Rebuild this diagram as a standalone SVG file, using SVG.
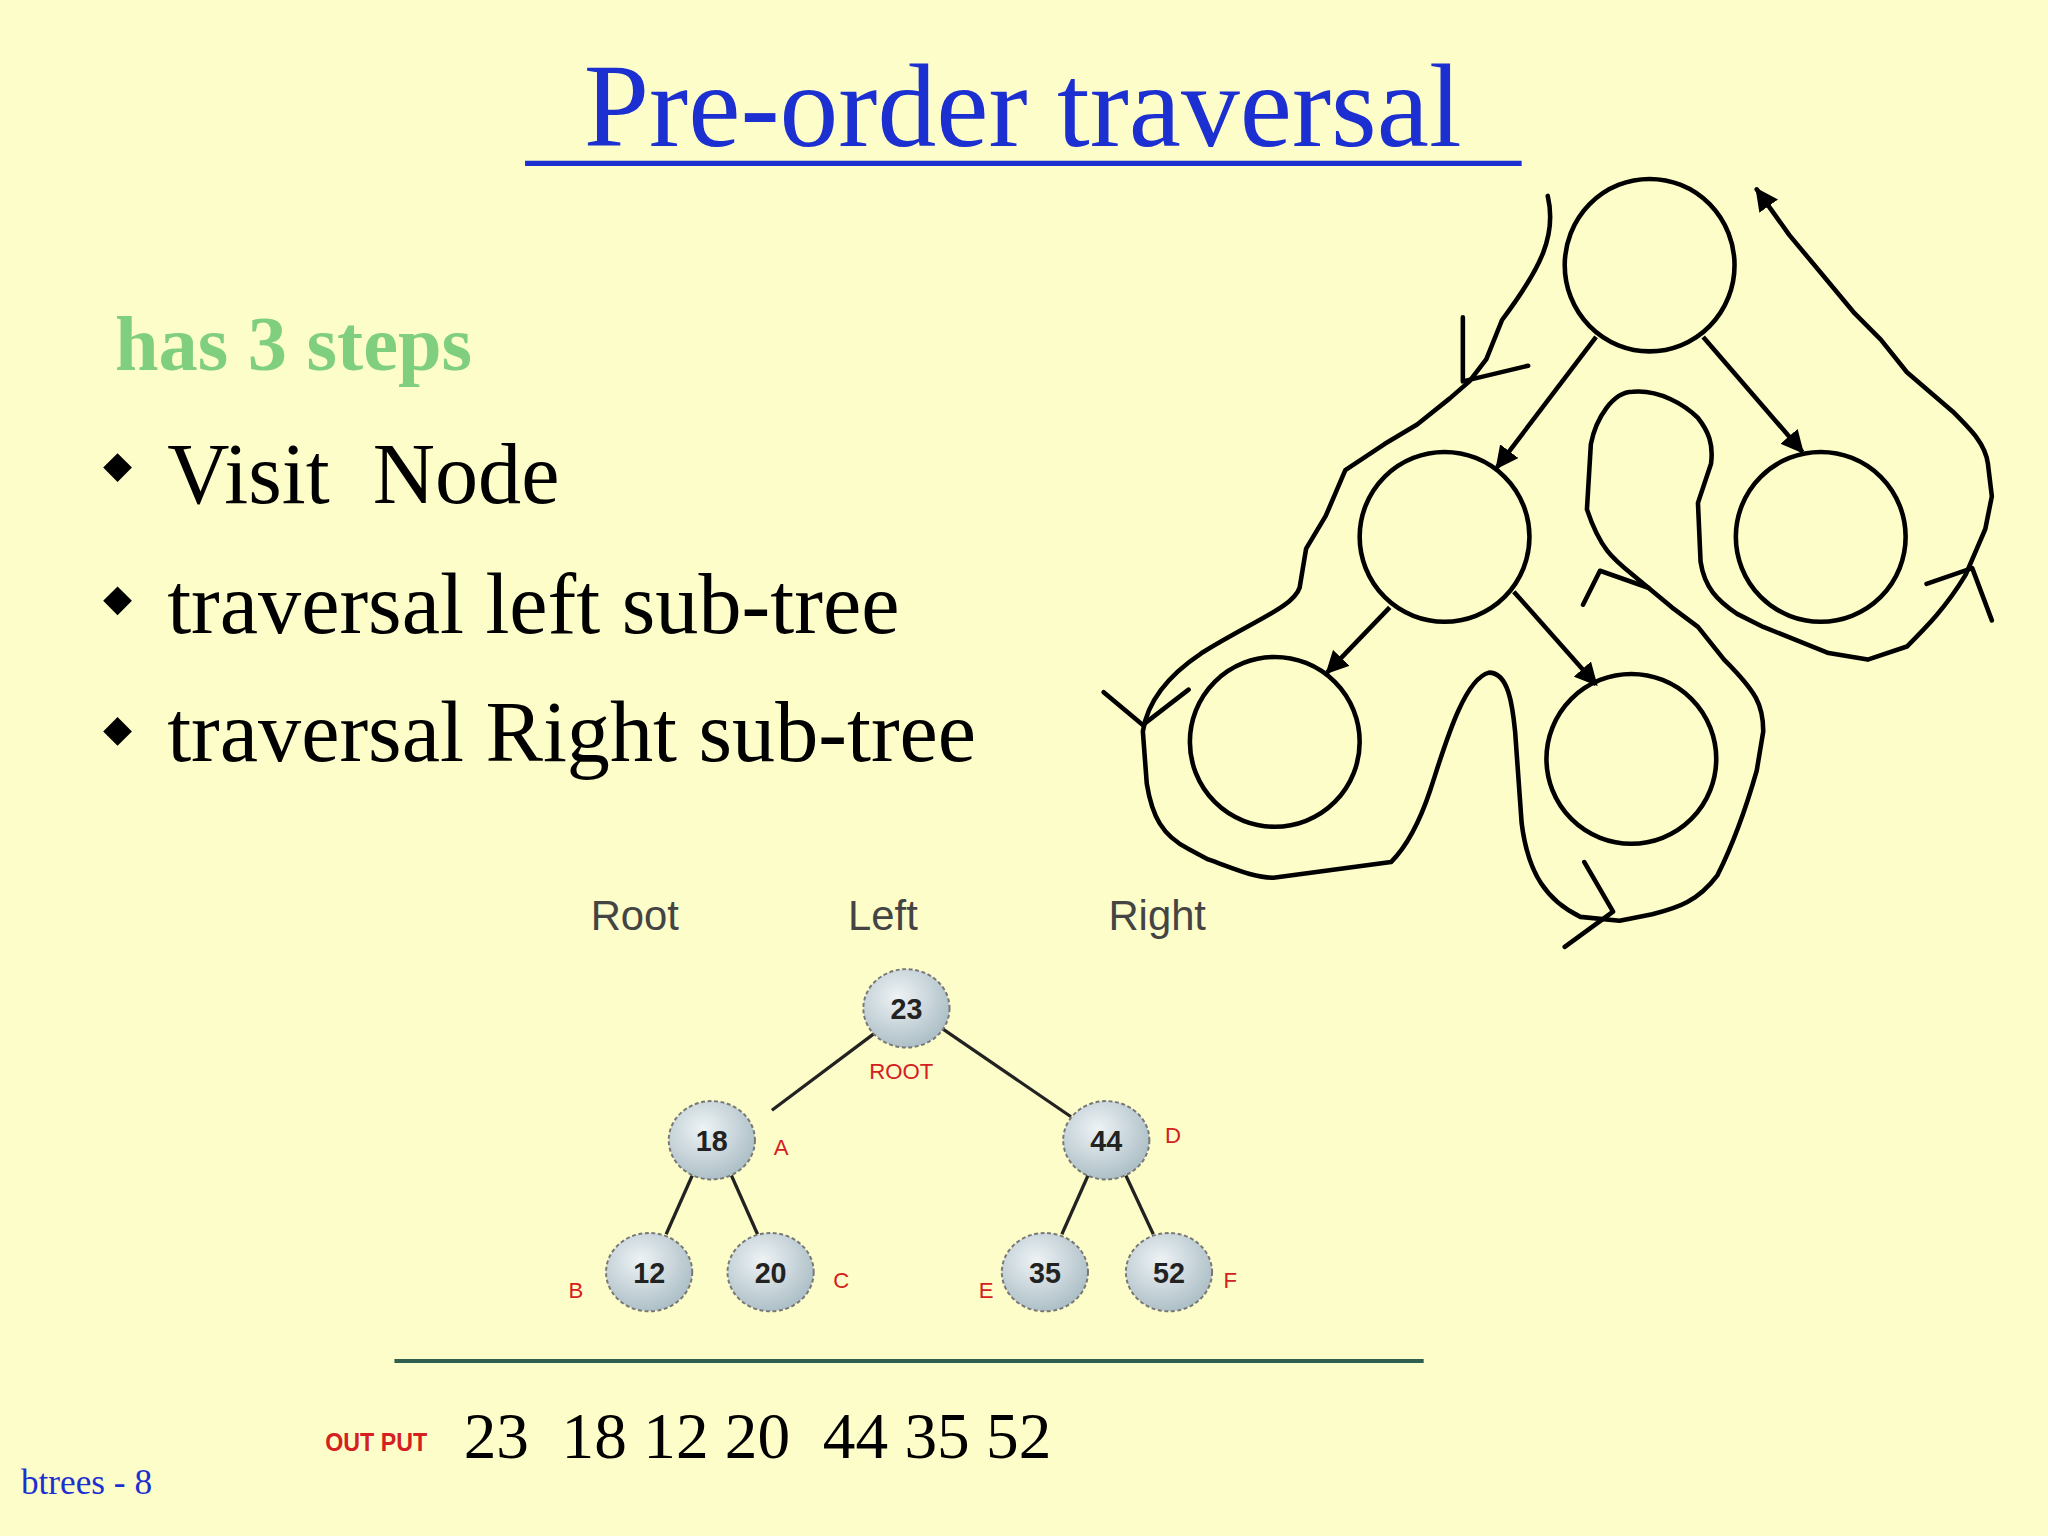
<svg xmlns="http://www.w3.org/2000/svg" width="2048" height="1536" viewBox="0 0 2048 1536">
<defs>
<style>
.serif{font-family:"Liberation Serif","Times New Roman",serif}
.sans{font-family:"Liberation Sans",Arial,sans-serif}
.big{font-size:66px;fill:#000}
.hd{fill:none;stroke:#000;stroke-width:3.5;stroke-linecap:round;stroke-linejoin:round}
.tn{fill:url(#ng);stroke:#777;stroke-width:1.5;stroke-dasharray:3 2}
.tv{font-size:22px;font-weight:bold;fill:#222;text-anchor:middle}
.tl{font-size:17px;fill:#d42020}
.edge{stroke:#222;stroke-width:2.5}
</style>
<radialGradient id="ng" cx="0.4" cy="0.35" r="0.7"><stop offset="0" stop-color="#eef3f5"/><stop offset="1" stop-color="#a9bcc4"/></radialGradient>
<marker id="ah" viewBox="0 0 10 10" refX="9" refY="5" markerWidth="5" markerHeight="5" orient="auto"><path d="M0,0 L10,5 L0,10 z" fill="#000"/></marker>
</defs>
<rect width="2048" height="1536" fill="#fdfdc9"/>
<g transform="scale(1.30612)">
<g id="title"><text x="783" y="112" class="serif" font-size="90" fill="#1c2fd0" text-anchor="middle">Pre-order traversal</text>
<line x1="402" y1="125" x2="1165" y2="125" stroke="#1c2fd0" stroke-width="4"/></g>
<g id="steps">
<text x="88" y="283" class="serif" font-size="60" font-weight="bold" fill="#7fcf7f">has 3 steps</text>
<path d="M90,347 L101,358 L90,369 L79,358 z M90,449 L101,460 L90,471 L79,460 z M90,549 L101,560 L90,571 L79,560 z" fill="#000"/>
<text x="128" y="385" class="serif big" xml:space="preserve">Visit  Node</text>
<text x="128" y="485" class="serif big">traversal left sub-tree</text>
<text x="128" y="583" class="serif big">traversal Right sub-tree</text>
</g>
<g id="headers" class="sans" font-size="32" fill="#444" text-anchor="middle">
<text x="486" y="712">Root</text><text x="676" y="712">Left</text><text x="886" y="712">Right</text>
</g>
<g id="connectors">
<line class="edge" x1="671" y1="790" x2="591" y2="850"/>
<line class="edge" x1="722" y1="788" x2="820" y2="855"/>
<line class="edge" x1="530" y1="900" x2="510" y2="945"/>
<line class="edge" x1="560" y1="900" x2="580" y2="945"/>
<line class="edge" x1="833" y1="900" x2="813" y2="945"/>
<line class="edge" x1="862" y1="900" x2="883" y2="945"/>
<g marker-end="url(#ah)" stroke="#000" stroke-width="3.5">
<line x1="1222" y1="258" x2="1146" y2="358"/>
<line x1="1304" y1="258" x2="1380" y2="346"/>
<line x1="1064" y1="465" x2="1016" y2="515"/>
<line x1="1159" y1="453" x2="1222" y2="524"/>
</g>
<path class="hd" marker-end="url(#ah)" d="M1185,150 C1192,180 1180,205 1150,245 L1138,275 L1125,292 L1110,305 L1085,325 L1060,340 L1030,360 L1015,395 L1000,420 L995,450 C990,465 960,475 920,500 C890,520 878,540 875,560 L878,600 C882,625 890,640 910,650 L925,658 C945,665 960,672 975,672 L1065,660 C1075,650 1085,635 1095,605 C1105,575 1120,520 1140,515 C1155,515 1158,540 1160,560 L1165,630 C1170,670 1185,690 1210,702 L1240,705 L1265,700 C1285,695 1300,690 1315,670 C1325,650 1335,625 1345,590 L1350,560 C1350,540 1345,530 1320,505 L1300,480 L1280,465 L1250,440 C1235,428 1225,420 1215,390 L1218,340 C1222,320 1235,300 1250,300 C1270,298 1290,310 1300,320 C1308,330 1312,340 1310,355 L1300,385 L1302,430 C1305,450 1315,460 1330,470 L1350,480 L1400,500 L1430,505 L1460,495 C1475,480 1490,465 1505,440 L1520,405 L1525,380 L1522,355 C1520,340 1510,330 1495,315 L1460,285 L1440,260 L1420,240 L1395,210 L1370,180 L1345,145"/>
<path class="hd" d="M1120,243 L1120,292 L1170,280 M845,530 L875,555 L910,528 M1212,463 L1225,437 L1262,450 M1475,447 L1510,435 L1525,475 M1213,660 L1235,698 L1198,725"/>
</g>
<g id="c-top"><ellipse cx="1263" cy="203" rx="65" ry="66" fill="none" stroke="#000" stroke-width="3.5"/></g>
<g id="c-midleft"><ellipse cx="1106" cy="411" rx="65" ry="65" fill="none" stroke="#000" stroke-width="3.5"/></g>
<g id="c-right"><ellipse cx="1394" cy="411" rx="65" ry="65" fill="none" stroke="#000" stroke-width="3.5"/></g>
<g id="c-botleft"><ellipse cx="976" cy="568" rx="65" ry="65" fill="none" stroke="#000" stroke-width="3.5"/></g>
<g id="c-botright"><ellipse cx="1249" cy="581" rx="65" ry="65" fill="none" stroke="#000" stroke-width="3.5"/></g>
<g class="sans">
<g id="n23"><ellipse class="tn" cx="694" cy="772" rx="33" ry="30"/><text class="tv" x="694" y="780">23</text><text class="tl" x="690" y="826" text-anchor="middle">ROOT</text></g>
<g id="n18"><ellipse class="tn" cx="545" cy="873" rx="33" ry="30"/><text class="tv" x="545" y="881">18</text><text class="tl" x="598" y="884" text-anchor="middle">A</text></g>
<g id="n44"><ellipse class="tn" cx="847" cy="873" rx="33" ry="30"/><text class="tv" x="847" y="881">44</text><text class="tl" x="898" y="875" text-anchor="middle">D</text></g>
<g id="n12"><ellipse class="tn" cx="497" cy="974" rx="33" ry="30"/><text class="tv" x="497" y="982">12</text><text class="tl" x="441" y="994" text-anchor="middle">B</text></g>
<g id="n20"><ellipse class="tn" cx="590" cy="974" rx="33" ry="30"/><text class="tv" x="590" y="982">20</text><text class="tl" x="644" y="986" text-anchor="middle">C</text></g>
<g id="n35"><ellipse class="tn" cx="800" cy="974" rx="33" ry="30"/><text class="tv" x="800" y="982">35</text><text class="tl" x="755" y="994" text-anchor="middle">E</text></g>
<g id="n52"><ellipse class="tn" cx="895" cy="974" rx="33" ry="30"/><text class="tv" x="895" y="982">52</text><text class="tl" x="942" y="986" text-anchor="middle">F</text></g>
</g>
<line x1="302" y1="1042" x2="1090" y2="1042" stroke="#2f5f4f" stroke-width="3"/>
<g id="output">
<text x="249" y="1111" class="sans" font-size="20" font-weight="bold" fill="#d42020" textLength="78" lengthAdjust="spacingAndGlyphs">OUT PUT</text>
<text x="355" y="1116" class="serif" font-size="50" fill="#000" xml:space="preserve">23  18 12 20  44 35 52</text>
</g>
<text x="16" y="1144" class="serif" font-size="27" fill="#1c2fd0">btrees - 8</text>
</g>
</svg>
